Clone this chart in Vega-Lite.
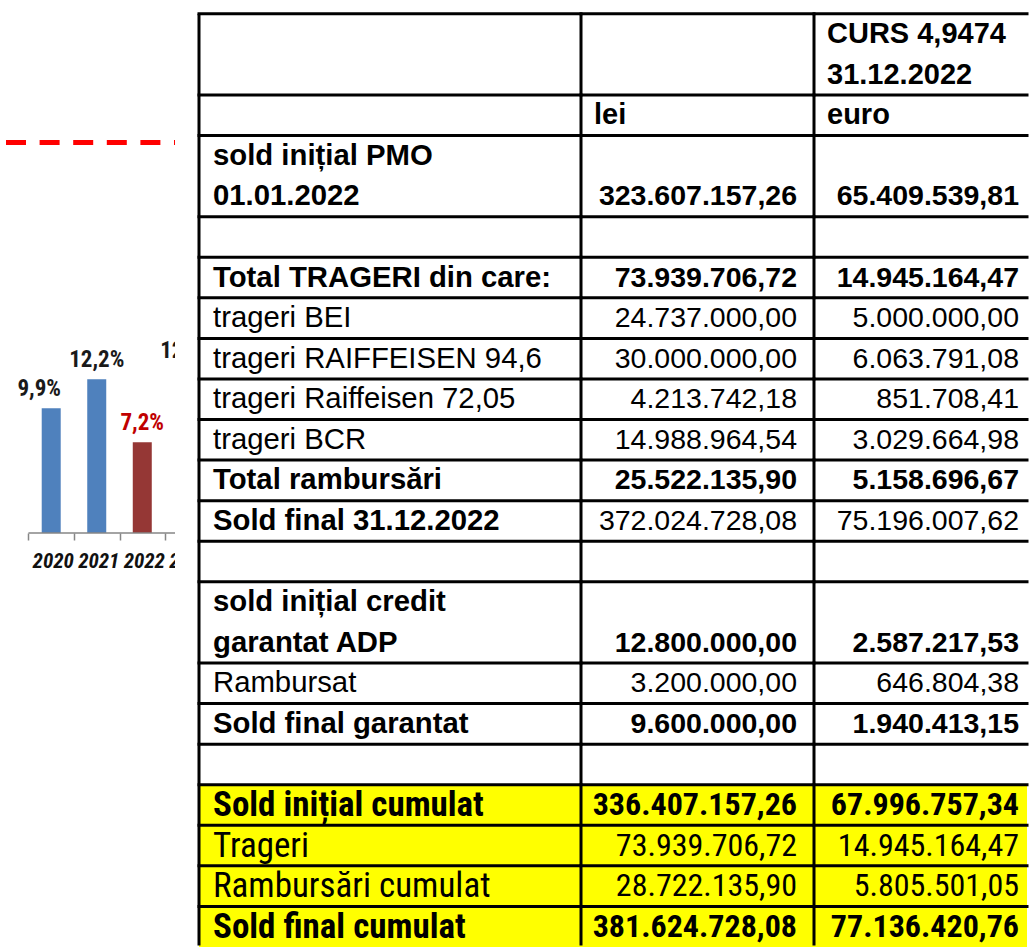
{
  "$schema": "https://vega.github.io/schema/vega-lite/v6.json",
  "padding": 0,
  "background": "white",
  "bounds": "flush",
  "spacing": 24,
  "config": {"view": {"stroke": null}},
  "datasets": {
    "growth": [
      {"year": 2020, "value": 9.9, "label": "9,9%"},
      {"year": 2021, "value": 12.2, "label": "12,2%"},
      {"year": 2022, "value": 7.2, "label": "7,2%"},
      {"year": 2023, "value": 12.9, "label": "12,9%"}
    ],
    "rows": [
      {"r0": 0, "r1": 2, "label": "", "lei": "", "euro": "CURS 4,9474\n31.12.2022", "type": "head", "section": "PMO"},
      {"r0": 2, "r1": 3, "label": "", "lei": "lei", "euro": "euro", "type": "head", "section": "PMO"},
      {"r0": 3, "r1": 5, "label": "sold inițial PMO\n01.01.2022", "lei": "323.607.157,26", "euro": "65.409.539,81", "type": "total", "section": "PMO"},
      {"r0": 5, "r1": 6, "label": "", "lei": "", "euro": "", "type": "blank", "section": "PMO"},
      {"r0": 6, "r1": 7, "label": "Total TRAGERI din care:", "lei": "73.939.706,72", "euro": "14.945.164,47", "type": "total", "section": "PMO"},
      {"r0": 7, "r1": 8, "label": "trageri BEI", "lei": "24.737.000,00", "euro": "5.000.000,00", "type": "item", "section": "PMO"},
      {"r0": 8, "r1": 9, "label": "trageri RAIFFEISEN 94,6", "lei": "30.000.000,00", "euro": "6.063.791,08", "type": "item", "section": "PMO"},
      {"r0": 9, "r1": 10, "label": "trageri Raiffeisen 72,05", "lei": "4.213.742,18", "euro": "851.708,41", "type": "item", "section": "PMO"},
      {"r0": 10, "r1": 11, "label": "trageri BCR", "lei": "14.988.964,54", "euro": "3.029.664,98", "type": "item", "section": "PMO"},
      {"r0": 11, "r1": 12, "label": "Total rambursări", "lei": "25.522.135,90", "euro": "5.158.696,67", "type": "total", "section": "PMO"},
      {"r0": 12, "r1": 13, "label": "Sold final 31.12.2022", "lei": "372.024.728,08", "euro": "75.196.007,62", "type": "final", "section": "PMO"},
      {"r0": 13, "r1": 14, "label": "", "lei": "", "euro": "", "type": "blank", "section": "PMO"},
      {"r0": 14, "r1": 16, "label": "sold inițial credit\ngarantat ADP", "lei": "12.800.000,00", "euro": "2.587.217,53", "type": "total", "section": "ADP"},
      {"r0": 16, "r1": 17, "label": "Rambursat", "lei": "3.200.000,00", "euro": "646.804,38", "type": "item", "section": "ADP"},
      {"r0": 17, "r1": 18, "label": "Sold final garantat", "lei": "9.600.000,00", "euro": "1.940.413,15", "type": "total", "section": "ADP"},
      {"r0": 18, "r1": 19, "label": "", "lei": "", "euro": "", "type": "blank", "section": "ADP"},
      {"r0": 19, "r1": 20, "label": "Sold inițial cumulat", "lei": "336.407.157,26", "euro": "67.996.757,34", "type": "total", "section": "cumulat"},
      {"r0": 20, "r1": 21, "label": "Trageri", "lei": "73.939.706,72", "euro": "14.945.164,47", "type": "item", "section": "cumulat"},
      {"r0": 21, "r1": 22, "label": "Rambursări cumulat", "lei": "28.722.135,90", "euro": "5.805.501,05", "type": "item", "section": "cumulat"},
      {"r0": 22, "r1": 23, "label": "Sold final cumulat", "lei": "381.624.728,08", "euro": "77.136.420,76", "type": "total", "section": "cumulat"}
    ]
  },
  "hconcat": [
    {
      "width": 175,
      "height": 947,
      "data": {"name": "growth"},
      "layer": [
        {
          "data": {"values": [{"level": 31}]},
          "mark": {"type": "rule", "clip": true, "color": "#FF0000", "strokeWidth": 5, "strokeDash": [20, 13.6], "strokeDashOffset": 19, "strokeCap": "butt"},
          "encoding": {
            "y": {"field": "level", "type": "quantitative", "scale": {"domain": [-32.86, 42.3], "nice": false, "zero": false}, "axis": null}
          }
        },
        {
          "mark": {"type": "bar", "width": 19, "clip": true, "color": {"expr": "datum.year == 2022 ? '#953735' : '#4F81BD'"}},
          "encoding": {
            "x": {"field": "year", "type": "quantitative",
              "scale": {"domain": [2018.985, 2022.609], "nice": false, "zero": false},
              "axis": {
                "values": [2019.5, 2020.5, 2021.5, 2022.5],
                "labels": false,
                "domain": false, "grid": false, "title": null,
                "offset": -414,
                "tickSize": 7, "tickColor": "#868686", "tickWidth": 1.5
              }
            },
            "y": {"field": "value", "type": "quantitative", "scale": {"domain": [-32.86, 42.3], "nice": false, "zero": false}, "axis": null},
            "y2": {"datum": 0}
          }
        },
        {
          "data": {"values": [{"base": 0}]},
          "mark": {"type": "rule", "color": "#868686", "strokeWidth": 1.5, "clip": true},
          "encoding": {
            "x": {"datum": 2019.5, "type": "quantitative"},
            "x2": {"datum": 2023.5},
            "y": {"field": "base", "type": "quantitative", "scale": {"domain": [-32.86, 42.3], "nice": false, "zero": false}, "axis": null}
          }
        },
        {
          "mark": {"type": "text", "clip": true, "baseline": "alphabetic", "align": "center", "dy": -12,
            "dx": {"expr": "datum.year == 2020 ? -12 : 0"},
            "font": "Roboto Condensed, Liberation Sans", "fontSize": 23, "fontWeight": "bold",
            "color": {"expr": "datum.year == 2022 ? '#C00000' : '#1a1a1a'"}},
          "encoding": {
            "x": {"field": "year", "type": "quantitative"},
            "y": {"field": "value", "type": "quantitative", "scale": {"domain": [-32.86, 42.3], "nice": false, "zero": false}, "axis": null},
            "text": {"field": "label"}
          }
        },
        {
          "mark": {"type": "text", "clip": true, "baseline": "middle", "align": "center", "dy": 29, "dx": 2,
            "font": "Roboto Condensed, Liberation Sans", "fontSize": 21, "fontStyle": "italic", "fontWeight": "bold",
            "color": "#111111"},
          "encoding": {
            "x": {"field": "year", "type": "quantitative"},
            "y": {"datum": 0, "type": "quantitative"},
            "text": {"field": "year", "type": "nominal"}
          }
        }
      ]
    },
    {
      "spacing": 0,
      "bounds": "flush",
      "hconcat": [
        {
          "width": 382,
          "height": 947,
          "data": {"name": "rows"},
          "layer": [
            {
              "transform": [{"filter": "datum.section == 'cumulat'"}],
              "mark": {"type": "rect", "color": "#FFFF00"},
              "encoding": {
                "x": {"datum": 0, "type": "quantitative", "scale": {"domain": [0, 1], "nice": false, "zero": false}, "axis": null},
                "x2": {"datum": 1},
                "y": {"field": "r0", "type": "quantitative", "scale": {"domain": [-0.34, 23], "reverse": true, "nice": false, "zero": false}, "axis": null},
                "y2": {"field": "r1"}
              }
            },
            {
              "mark": {"type": "rule", "color": "#000000", "strokeWidth": 3, "strokeCap": "square"},
              "encoding": {
                "x": {"datum": 0, "type": "quantitative"},
                "x2": {"datum": 1},
                "y": {"field": "r0", "type": "quantitative"}
              }
            },
            {
              "data": {"values": [{"top": 0, "bottom": 22.96}]},
              "mark": {"type": "rule", "color": "#000000", "strokeWidth": 3},
              "encoding": {
                "x": {"datum": 0, "type": "quantitative"},
                "y": {"field": "top", "type": "quantitative"},
                "y2": {"field": "bottom"}
              }
            },
            {
              "mark": {"type": "text", "align": "left", "baseline": "middle", "dx": 14, "dy": 20.3, "lineBreak": "\n", "lineHeight": 40.57,
                "color": "#000000",
                "font": {"expr": "datum.section == 'cumulat' ? 'Roboto Condensed' : 'Liberation Sans'"},
                "fontSize": {"expr": "datum.section == 'cumulat' ? 35 : 29.3"},
                "fontWeight": {"expr": "datum.type == 'item' ? 'normal' : 'bold'"}},
              "encoding": {
                "x": {"datum": 0, "type": "quantitative"},
                "y": {"field": "r0", "type": "quantitative"},
                "text": {"field": "label"}
              }
            }
          ]
        },
        {
          "width": 233,
          "height": 947,
          "data": {"name": "rows"},
          "layer": [
            {
              "transform": [{"filter": "datum.section == 'cumulat'"}],
              "mark": {"type": "rect", "color": "#FFFF00"},
              "encoding": {
                "x": {"datum": 0, "type": "quantitative", "scale": {"domain": [0, 1], "nice": false, "zero": false}, "axis": null},
                "x2": {"datum": 1},
                "y": {"field": "r0", "type": "quantitative", "scale": {"domain": [-0.34, 23], "reverse": true, "nice": false, "zero": false}, "axis": null},
                "y2": {"field": "r1"}
              }
            },
            {
              "mark": {"type": "rule", "color": "#000000", "strokeWidth": 3, "strokeCap": "square"},
              "encoding": {
                "x": {"datum": 0, "type": "quantitative"},
                "x2": {"datum": 1},
                "y": {"field": "r0", "type": "quantitative"}
              }
            },
            {
              "data": {"values": [{"top": 0, "bottom": 22.96}]},
              "mark": {"type": "rule", "color": "#000000", "strokeWidth": 3},
              "encoding": {
                "x": {"datum": 0, "type": "quantitative"},
                "y": {"field": "top", "type": "quantitative"},
                "y2": {"field": "bottom"}
              }
            },
            {
              "transform": [{"filter": "datum.type == 'head'"}],
              "mark": {"type": "text", "align": "left", "baseline": "middle", "dx": 13, "dy": 20.3, "lineBreak": "\n", "lineHeight": 40.57,
                "color": "#000000", "font": "Liberation Sans", "fontSize": 29, "fontWeight": "bold"},
              "encoding": {
                "x": {"datum": 0, "type": "quantitative"},
                "y": {"field": "r0", "type": "quantitative"},
                "text": {"field": "lei"}
              }
            },
            {
              "transform": [{"filter": "datum.type != 'head'"}],
              "mark": {"type": "text", "align": "right", "baseline": "middle", "dx": -17, "dy": -20.3,
                "color": "#000000",
                "font": {"expr": "datum.section == 'cumulat' ? 'Roboto Condensed' : 'Liberation Sans'"},
                "fontSize": {"expr": "datum.section == 'cumulat' ? 32 : 28.5"},
                "fontWeight": {"expr": "datum.type == 'total' ? 'bold' : 'normal'"}},
              "encoding": {
                "x": {"datum": 1, "type": "quantitative"},
                "y": {"field": "r1", "type": "quantitative"},
                "text": {"field": "lei"}
              }
            }
          ]
        },
        {
          "width": 213,
          "height": 947,
          "data": {"name": "rows"},
          "layer": [
            {
              "transform": [{"filter": "datum.section == 'cumulat'"}],
              "mark": {"type": "rect", "color": "#FFFF00"},
              "encoding": {
                "x": {"datum": 0, "type": "quantitative", "scale": {"domain": [0, 1], "nice": false, "zero": false}, "axis": null},
                "x2": {"datum": 1},
                "y": {"field": "r0", "type": "quantitative", "scale": {"domain": [-0.34, 23], "reverse": true, "nice": false, "zero": false}, "axis": null},
                "y2": {"field": "r1"}
              }
            },
            {
              "mark": {"type": "rule", "color": "#000000", "strokeWidth": 3, "strokeCap": "square"},
              "encoding": {
                "x": {"datum": 0, "type": "quantitative"},
                "x2": {"datum": 1},
                "y": {"field": "r0", "type": "quantitative"}
              }
            },
            {
              "data": {"values": [{"top": 0, "bottom": 22.96}]},
              "mark": {"type": "rule", "color": "#000000", "strokeWidth": 3},
              "encoding": {
                "x": {"datum": 0, "type": "quantitative"},
                "y": {"field": "top", "type": "quantitative"},
                "y2": {"field": "bottom"}
              }
            },
            {
              "transform": [{"filter": "datum.type == 'head'"}],
              "mark": {"type": "text", "align": "left", "baseline": "middle", "dx": 13, "dy": 20.3, "lineBreak": "\n", "lineHeight": 40.57,
                "color": "#000000", "font": "Liberation Sans", "fontSize": 29, "fontWeight": "bold"},
              "encoding": {
                "x": {"datum": 0, "type": "quantitative"},
                "y": {"field": "r0", "type": "quantitative"},
                "text": {"field": "euro"}
              }
            },
            {
              "transform": [{"filter": "datum.type != 'head'"}],
              "mark": {"type": "text", "align": "right", "baseline": "middle", "dx": -8, "dy": -20.3,
                "color": "#000000",
                "font": {"expr": "datum.section == 'cumulat' ? 'Roboto Condensed' : 'Liberation Sans'"},
                "fontSize": {"expr": "datum.section == 'cumulat' ? 32 : 28.5"},
                "fontWeight": {"expr": "datum.type == 'total' ? 'bold' : 'normal'"}},
              "encoding": {
                "x": {"datum": 1, "type": "quantitative"},
                "y": {"field": "r1", "type": "quantitative"},
                "text": {"field": "euro"}
              }
            }
          ]
        }
      ]
    }
  ]
}
